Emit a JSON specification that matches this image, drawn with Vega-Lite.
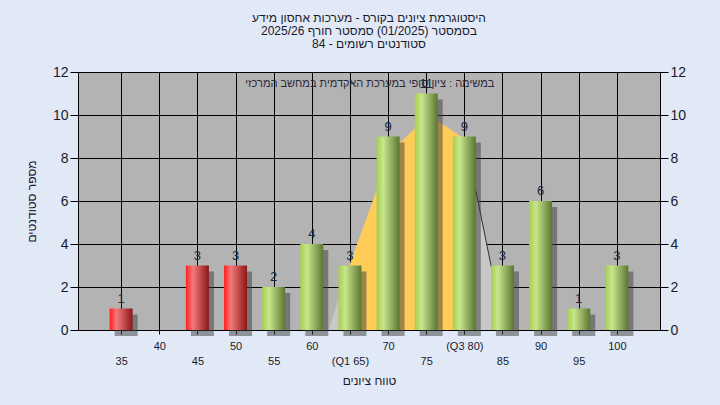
{
  "$schema": "https://vega.github.io/schema/vega-lite/v6.json",
  "width": 582,
  "height": 258,
  "autosize": {"type": "none"},
  "padding": {"left": 78, "top": 72, "right": 60, "bottom": 75},
  "background": "#e1e9f6",
  "config": {
    "view": {"fill": "#b3b3b3", "stroke": null},
    "font": "Liberation Sans"
  },
  "title": {
    "text": ["היסטוגרמת ציונים בקורס - מערכות אחסון מידע", "בסמסטר  (01/2025)  סמסטר חורף 2025/26", "סטודנטים רשומים - 84"],
    "fontSize": 12,
    "fontWeight": "normal",
    "color": "#1a1a2e",
    "anchor": "middle",
    "lineHeight": 13,
    "offset": 14
  },
  "resolve": {"axis": {"x": "independent", "y": "independent"}},
  "datasets": {
    "bars": [
      {"x": 35, "n": 1, "grp": "r"},
      {"x": 40, "n": 0, "grp": "g"},
      {"x": 45, "n": 3, "grp": "r"},
      {"x": 50, "n": 3, "grp": "r"},
      {"x": 55, "n": 2, "grp": "g"},
      {"x": 60, "n": 4, "grp": "g"},
      {"x": 65, "n": 3, "grp": "g"},
      {"x": 70, "n": 9, "grp": "g"},
      {"x": 75, "n": 11, "grp": "g"},
      {"x": 80, "n": 9, "grp": "g"},
      {"x": 85, "n": 3, "grp": "g"},
      {"x": 90, "n": 6, "grp": "g"},
      {"x": 95, "n": 1, "grp": "g"},
      {"x": 100, "n": 3, "grp": "g"}
    ],
    "curve": [
      {"x": 62.2, "n": 0},
      {"x": 65, "n": 3.05},
      {"x": 68.5, "n": 6.5},
      {"x": 71.5, "n": 8.7},
      {"x": 73.6, "n": 9.4},
      {"x": 76.6, "n": 9.7},
      {"x": 80, "n": 8.9},
      {"x": 81.5, "n": 6.5},
      {"x": 83.5, "n": 3.0},
      {"x": 85.2, "n": 0}
    ],
    "iqr": [
      {"x": 65, "n": 3.05},
      {"x": 68.5, "n": 6.5},
      {"x": 71.5, "n": 8.7},
      {"x": 73.6, "n": 9.4},
      {"x": 76.6, "n": 9.7},
      {"x": 80, "n": 8.9}
    ],
    "edge": [
      {"x": 80, "n": 8.9},
      {"x": 81.5, "n": 6.5},
      {"x": 83.5, "n": 3.0},
      {"x": 85.2, "n": 0}
    ],
    "note": [
      {"x": 67.6, "n": 11.45, "t": "במשימה : ציון סופי במערכת האקדמית במחשב המרכזי"}
    ]
  },
  "layer": [
    {
      "data": {"name": "curve"},
      "mark": {"type": "area", "color": "#c8c8c8"},
      "encoding": {
        "x": {
          "field": "x", "type": "quantitative",
          "scale": {"domain": [30, 105], "nice": false, "zero": false},
          "axis": {
            "orient": "bottom",
            "values": [40, 50, 60, 70, 80, 90, 100],
            "labelExpr": "datum.value == 80 ? '(Q3 80)' : datum.label",
            "grid": true, "gridColor": "#000000", "gridOpacity": 1, "gridWidth": 1,
            "domainColor": "#000000", "tickColor": "#000000", "tickSize": 4,
            "labelFontSize": 11, "labelColor": "#1a1a2e", "labelPadding": 6,
            "labelOverlap": false, "labelFlush": false,
            "title": null
          }
        },
        "y": {
          "field": "n", "type": "quantitative",
          "scale": {"domain": [0, 12], "nice": false},
          "axis": {
            "orient": "left",
            "values": [0, 2, 4, 6, 8, 10, 12],
            "grid": true, "gridColor": "#000000", "gridOpacity": 1, "gridWidth": 1,
            "domainColor": "#000000", "tickColor": "#000000", "tickSize": 8,
            "labelFontSize": 14, "labelColor": "#1a1a2e", "labelPadding": 2,
            "title": "מספר סטודנטים", "titleFontSize": 12, "titleFontWeight": "normal",
            "titleColor": "#1a1a2e", "titlePadding": 14
          }
        }
      }
    },
    {
      "data": {"name": "iqr"},
      "mark": {"type": "area", "color": "#ffcc58"},
      "encoding": {
        "x": {
          "field": "x", "type": "quantitative",
          "axis": {
            "orient": "bottom",
            "values": [35, 45, 55, 65, 75, 85, 95],
            "labelExpr": "datum.value == 65 ? '(Q1 65)' : datum.label",
            "grid": true, "gridColor": "#000000", "gridOpacity": 1, "gridWidth": 1,
            "domainColor": "#000000", "tickColor": "#000000", "tickSize": 4,
            "labelFontSize": 11, "labelColor": "#1a1a2e", "labelPadding": 21,
            "labelOverlap": false, "labelFlush": false,
            "title": "טווח ציונים", "titleFontSize": 12, "titleFontWeight": "normal",
            "titleColor": "#1a1a2e", "titlePadding": 9
          }
        },
        "y": {"field": "n", "type": "quantitative", "axis": null}
      }
    },
    {
      "data": {"name": "edge"},
      "mark": {"type": "line", "color": "#303030", "strokeWidth": 1},
      "encoding": {
        "x": {"field": "x", "type": "quantitative", "axis": null},
        "y": {"field": "n", "type": "quantitative", "axis": null}
      }
    },
    {
      "data": {"name": "bars"},
      "transform": [{"filter": "datum.n > 0"}],
      "mark": {"type": "bar", "width": 23, "color": "#3c3c3c", "opacity": 0.5, "xOffset": 5, "yOffset": 6, "y2Offset": 4},
      "encoding": {
        "x": {"field": "x", "type": "quantitative", "axis": null},
        "y": {"field": "n", "type": "quantitative", "axis": null}
      }
    },
    {
      "data": {"name": "bars"},
      "transform": [{"filter": "datum.grp === 'r' && datum.n > 0"}],
      "mark": {
        "type": "bar", "width": 23,
        "color": {"gradient": "linear", "x1": 0, "x2": 1, "y1": 0, "y2": 0,
          "stops": [
            {"offset": 0, "color": "#ff1e1e"},
            {"offset": 0.3, "color": "#f47a7a"},
            {"offset": 1, "color": "#8a1616"}
          ]}
      },
      "encoding": {
        "x": {"field": "x", "type": "quantitative", "axis": null},
        "y": {"field": "n", "type": "quantitative", "axis": null}
      }
    },
    {
      "data": {"name": "bars"},
      "transform": [{"filter": "datum.grp === 'g' && datum.n > 0"}],
      "mark": {
        "type": "bar", "width": 23,
        "color": {"gradient": "linear", "x1": 0, "x2": 1, "y1": 0, "y2": 0,
          "stops": [
            {"offset": 0, "color": "#a6ce4e"},
            {"offset": 0.3, "color": "#c8e68c"},
            {"offset": 1, "color": "#5a7632"}
          ]}
      },
      "encoding": {
        "x": {"field": "x", "type": "quantitative", "axis": null},
        "y": {"field": "n", "type": "quantitative", "axis": null}
      }
    },
    {
      "data": {"name": "bars"},
      "transform": [{"filter": "datum.n > 0"}],
      "mark": {"type": "text", "baseline": "bottom", "dy": -3, "fontSize": 13, "color": "#202840"},
      "encoding": {
        "x": {"field": "x", "type": "quantitative", "axis": null},
        "y": {
          "field": "n", "type": "quantitative",
          "axis": {
            "orient": "right",
            "values": [0, 2, 4, 6, 8, 10, 12],
            "grid": false,
            "domainColor": "#000000", "tickColor": "#000000", "tickSize": 8,
            "labelFontSize": 14, "labelColor": "#1a1a2e", "labelPadding": 2,
            "title": null
          }
        },
        "text": {"field": "n", "type": "quantitative"}
      }
    },
    {
      "data": {"name": "note"},
      "mark": {"type": "text", "fontSize": 11, "color": "#2a2a3a", "baseline": "middle"},
      "encoding": {
        "x": {"field": "x", "type": "quantitative", "axis": null},
        "y": {"field": "n", "type": "quantitative", "axis": null},
        "text": {"field": "t"}
      }
    }
  ]
}
